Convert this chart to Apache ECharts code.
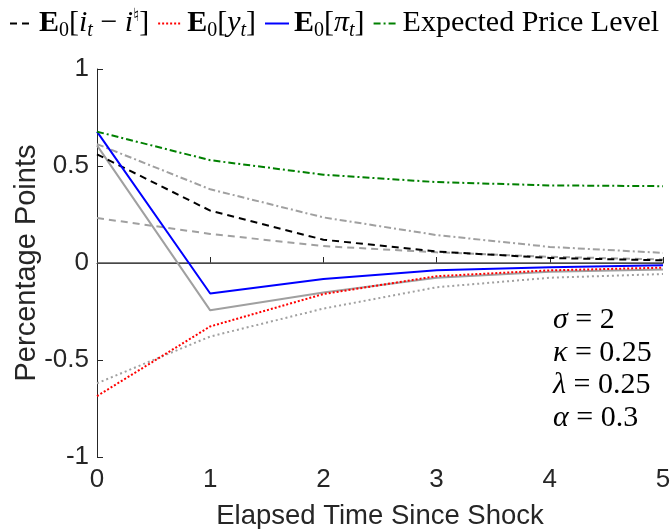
<!DOCTYPE html>
<html>
<head>
<meta charset="utf-8">
<script src="https://cdn.jsdelivr.net/npm/echarts@6/dist/echarts.min.js"></script>
<style>
  html, body { margin: 0; padding: 0; background: #fff; }
  #chart { width: 671px; height: 529px; }
</style>
</head>
<body>
<div id="chart"></div>
<script>
// elapsed time since shock
const periods = [0, 1, 2, 3, 4, 5];

// coloured paths (in legend)
const rateGap = [0.56, 0.27, 0.12, 0.059, 0.026, 0.014];
const output = [-0.686, -0.327, -0.16, -0.068, -0.038, -0.024];
const inflation = [0.677, -0.157, -0.083, -0.037, -0.022, -0.012];
const priceLevel = [0.677, 0.53, 0.455, 0.417, 0.40, 0.396];

// grey comparison paths (not in legend)
const rateGapAlt = [0.232, 0.15, 0.087, 0.055, 0.032, 0.018];
const outputAlt = [-0.62, -0.379, -0.235, -0.125, -0.076, -0.057];
const inflationAlt = [0.606, -0.244, -0.152, -0.076, -0.045, -0.033];
const priceLevelAlt = [0.613, 0.38, 0.235, 0.144, 0.083, 0.052];

const yTicks = [-1, -0.5, 0, 0.5, 1];
const params = ['{g|σ} = 2', '{g|κ} = 0.25', '{g|λ} = 0.25', '{g|α} = 0.3'];

const legendNames = {
  gap: '{b|E}{sub|0}{n|[}{it|i}{subi|t}{n| − }{it|i}{sup|♮}{n|]}',
  y: '{b|E}{sub|0}{n|[}{it|y}{subi|t}{n|]}',
  pi: '{b|E}{sub|0}{n|[}{it|π}{subi|t}{n|]}',
  price: '{n|Expected Price Level}'
};

function pairs(vals) {
  return vals.map(function (v, i) { return [periods[i], v]; });
}

function line(name, vals, color, type, width) {
  return {
    name: name,
    type: 'line',
    data: pairs(vals),
    symbol: 'none',
    silent: true,
    lineStyle: { color: color, type: type, width: width || 2 },
    itemStyle: { color: color }
  };
}

const serif = 'Liberation Serif';
const sans = 'Liberation Sans';
const grey = '#a0a0a0';
const fs = 30;

const chart = echarts.init(document.getElementById('chart'));
chart.setOption({
  animation: false,
  backgroundColor: '#fff',
  grid: { left: 97, right: 8, top: 69, bottom: 72, outerBoundsMode: 'none' },
  legend: {
    data: ['gap', 'y', 'pi', 'price'],
    left: 4,
    top: 2,
    itemWidth: 24,
    itemHeight: 14,
    itemGap: 8,
    itemStyle: { opacity: 0 },
    formatter: function (n) { return legendNames[n]; },
    textStyle: {
      fontFamily: serif,
      color: '#000',
      rich: {
        n: { fontFamily: serif, fontSize: fs, color: '#000' },
        it: { fontFamily: serif, fontSize: fs, fontStyle: 'italic', color: '#000' },
        b: { fontFamily: serif, fontSize: fs, fontWeight: 'bold', color: '#000' },
        sub: { fontFamily: serif, fontSize: 20, color: '#000', padding: [15, 0, 0, 0] },
        subi: { fontFamily: serif, fontSize: 20, fontStyle: 'italic', color: '#000', padding: [15, 0, 0, 0] },
        sup: { fontFamily: serif, fontSize: 18, color: '#000', padding: [0, 0, 15, 0] }
      }
    }
  },
  xAxis: {
    type: 'value',
    min: 0,
    max: 5,
    interval: 1,
    name: 'Elapsed Time Since Shock',
    nameLocation: 'middle',
    nameGap: 45,
    nameMoveOverlap: false,
    nameTextStyle: { fontFamily: sans, fontSize: 27.5, color: '#262626' },
    axisLine: { lineStyle: { color: '#262626', width: 1 } },
    axisTick: { inside: true, length: 6, lineStyle: { color: '#262626' } },
    axisLabel: { fontFamily: sans, fontSize: 26, color: '#262626', margin: 10 },
    splitLine: { show: false }
  },
  yAxis: {
    type: 'value',
    min: -1,
    max: 1,
    interval: 0.5,
    name: 'Percentage Points',
    nameLocation: 'middle',
    nameGap: 56,
    nameMoveOverlap: false,
    nameTextStyle: { fontFamily: sans, fontSize: 29, color: '#262626' },
    axisLine: { show: true, lineStyle: { color: '#262626', width: 1 } },
    axisTick: { show: true, inside: true, length: 6, lineStyle: { color: '#262626' } },
    axisLabel: {
      fontFamily: sans, fontSize: 26, color: '#262626', margin: 8,
      formatter: function (v) { return yTicks.indexOf(v) >= 0 ? String(v) : ''; }
    },
    splitLine: { show: false }
  },
  graphic: [{
    type: 'text',
    left: 553,
    top: 304,
    style: {
      text: params.join('\n'),
      fontFamily: serif,
      fontSize: fs,
      lineHeight: 32.5,
      fill: '#000',
      rich: {
        g: { fontFamily: serif, fontSize: fs, fontStyle: 'italic', lineHeight: 32.5 }
      }
    }
  }],
  series: [
    {
      name: 'zero',
      type: 'line',
      data: [[0, 0], [5, 0]],
      symbol: 'none',
      silent: true,
      z: 1,
      lineStyle: { color: '#555', width: 1.5 }
    },
    line('greyGap', rateGapAlt, grey, [7, 5]),
    line('greyY', outputAlt, grey, [2, 3]),
    line('greyPi', inflationAlt, grey, 'solid'),
    line('greyPrice', priceLevelAlt, grey, [7, 3, 2, 3]),
    line('gap', rateGap, '#000', [7, 5]),
    line('y', output, '#ff0000', [2, 2]),
    line('pi', inflation, '#0000ff', 'solid'),
    line('price', priceLevel, '#008000', [7, 3, 2, 3])
  ]
});
</script>
</body>
</html>
